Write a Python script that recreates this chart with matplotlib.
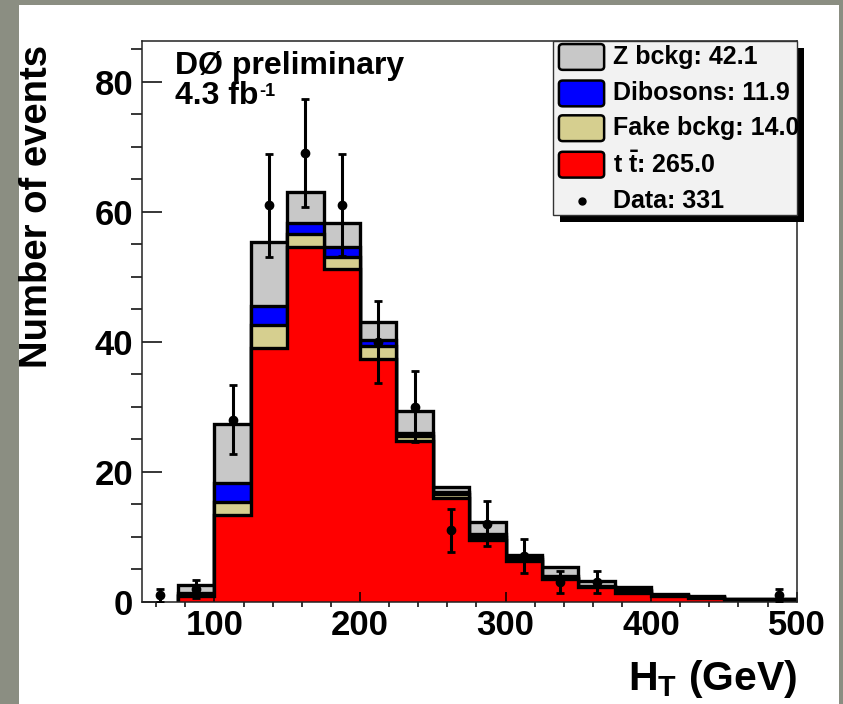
import numpy as np
import matplotlib
matplotlib.use('Agg')
import matplotlib.pyplot as plt
from matplotlib.patches import Rectangle, FancyBboxPatch

plt.rcParams['font.family'] = 'Liberation Sans'
plt.rcParams['font.weight'] = 'bold'
plt.rcParams['mathtext.fontset'] = 'custom'
plt.rcParams['mathtext.rm'] = 'Liberation Sans:bold'
plt.rcParams['mathtext.it'] = 'Liberation Sans:bold'
plt.rcParams['mathtext.bf'] = 'Liberation Sans:bold'

# HT bins (GeV)
edges = np.arange(75, 501, 25)

# stacked MC contributions per bin (events)
ttbar = [0.9, 13.4, 39.0, 54.6, 51.2, 37.4, 24.7, 16.0, 9.5, 6.2, 3.5, 2.2, 1.3, 0.8, 0.6, 0.3, 0.3]
fake = [0.2, 1.9, 3.6, 2.0, 1.9, 2.0, 0.8, 0.5, 0.4, 0.3, 0.2, 0.1, 0.3, 0.1, 0.05, 0.05, 0.05]
dibos = [0.2, 3.0, 2.9, 1.6, 1.4, 0.9, 0.5, 0.4, 0.5, 0.3, 0.2, 0.1, 0.2, 0.1, 0.05, 0.05, 0.05]
zbkg = [1.3, 9.1, 9.8, 4.8, 3.7, 2.8, 3.4, 0.8, 1.9, 0.4, 1.4, 0.8, 0.4, 0.2, 0.1, 0.0, 0.0]

# data points
data_x = [62.5, 87.5, 112.5, 137.5, 162.5, 187.5, 212.5, 237.5, 262.5, 287.5, 312.5, 337.5, 362.5, 487.5]
data_y = [1, 2, 28, 61, 69, 61, 40, 30, 11, 12, 7, 3, 3, 1]
data_err = [1.0, 1.4, 5.3, 7.9, 8.3, 7.8, 6.3, 5.5, 3.3, 3.5, 2.6, 1.7, 1.7, 1.0]

leg_labels = ['Z bckg: 42.1', 'Dibosons: 11.9', 'Fake bckg: 14.0', r't $\bar{\mathrm{t}}$: 265.0', 'Data: 331']
c_z, c_db, c_fk, c_tt = '#c8c8c8', '#0000ff', '#d6cf8f', '#ff0000'

W, H = 843, 704
fig = plt.figure(figsize=(W / 100, H / 100), dpi=100, facecolor='#8b8e82')
fig.patches.append(Rectangle((19 / W, 0), (839 - 19) / W, (704 - 5) / H, transform=fig.transFigure,
                             facecolor='white', edgecolor='none', zorder=-1))

ax = fig.add_axes([141.7 / W, 1 - 601.7 / H, 655 / W, 561 / H])

c1 = np.array(ttbar)
c2 = c1 + np.array(fake)
c3 = c2 + np.array(dibos)
c4 = c3 + np.array(zbkg)
for vals, col in [(c4, c_z), (c3, c_db), (c2, c_fk), (c1, c_tt)]:
    ax.stairs(vals, edges, fill=True, facecolor=col, edgecolor='black', linewidth=2.4)

ax.errorbar(data_x, data_y, yerr=data_err, fmt='o', color='black', ms=6,
            elinewidth=2.2, capsize=3, capthick=2, zorder=5)

ax.set_xlim(50, 500)
ax.set_ylim(0, 86.3)
ax.set_xticks([100, 200, 300, 400, 500])
ax.set_xticks(np.arange(60, 500, 20), minor=True)
ax.set_yticks([0, 20, 40, 60, 80])
ax.set_yticks(np.arange(0, 86, 5), minor=True)
ax.tick_params(axis='both', direction='in', labelsize=25, top=False, right=False)
ax.tick_params(axis='y', which='major', length=14.4, width=1.1, pad=6)
ax.tick_params(axis='y', which='minor', length=8, width=1.1)
ax.tick_params(axis='x', which='major', length=7, width=1.1, pad=5)
ax.tick_params(axis='x', which='minor', length=3.5, width=1.1)
for lab in ax.get_xticklabels() + ax.get_yticklabels():
    lab.set_fontweight('bold')
for sp in ax.spines.values():
    sp.set_linewidth(1.1)
    sp.set_color('#222222')

fig.text(37 / W, 1 - 45 / H, 'Number of events', rotation=90, ha='center', va='top', fontsize=27.5)
fig.text(797 / W, 1 - 690 / H, r'$\mathrm{H_T}$ (GeV)', ha='right', va='baseline', fontsize=29.5)
fig.text(175 / W, 1 - 74 / H, 'DØ preliminary', ha='left', va='baseline', fontsize=23)
lumi = fig.text(175 / W, 1 - 104 / H, '4.3 fb', ha='left', va='baseline', fontsize=23)
bb = lumi.get_window_extent(renderer=fig.canvas.get_renderer())
fig.text((bb.x1 + 1) / W, 1 - 96 / H, '-1', ha='left', va='baseline', fontsize=13)

# legend box with hard shadow
lx0, ly0 = 0.6275, 0.689
ax.add_patch(Rectangle((lx0 + 7 / 655, ly0 - 7 / 561), 1 - lx0, 1 - ly0, transform=ax.transAxes,
                       facecolor='black', edgecolor='none', zorder=9, clip_on=False))
ax.add_patch(Rectangle((lx0, ly0), 1 - lx0, 1 - ly0, transform=ax.transAxes,
                       facecolor='#f2f2f2', edgecolor='#333333', lw=1, zorder=10, clip_on=False))
rows = [0.971, 0.906, 0.844, 0.779, 0.714]
for yc, col in zip(rows[:4], [c_z, c_db, c_fk, c_tt]):
    ax.add_patch(FancyBboxPatch((0.637, yc - 0.023), 0.069, 0.046, transform=ax.transAxes,
                                boxstyle='round,pad=0,rounding_size=0.006',
                                facecolor=col, edgecolor='black', lw=1.8, zorder=11, clip_on=False))
ax.plot([0.672], [rows[4]], 'o', color='black', ms=5, transform=ax.transAxes, zorder=11, clip_on=False)
for yc, lab in zip(rows, leg_labels):
    ax.text(0.72, yc, lab, transform=ax.transAxes, ha='left', va='center', fontsize=18, zorder=12)

fig.savefig('out.png', dpi=100, facecolor=fig.get_facecolor())
